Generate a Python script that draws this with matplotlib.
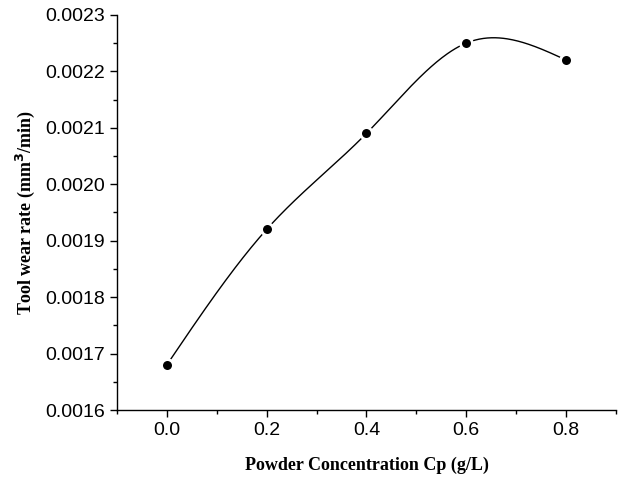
import numpy as np
import matplotlib.pyplot as plt
from matplotlib.ticker import MultipleLocator

# data
concentration = [0.0, 0.2, 0.4, 0.6, 0.8]
wear_rate = [0.00168, 0.00192, 0.00209, 0.00225, 0.00222]


def natural_spline(x, y, n=300):
    # plain natural cubic spline, just for drawing the smooth connecting line
    x = np.asarray(x, float)
    y = np.asarray(y, float)
    h = np.diff(x)
    k = len(x)
    A = np.zeros((k, k))
    b = np.zeros(k)
    A[0, 0] = A[-1, -1] = 1
    for i in range(1, k - 1):
        A[i, i - 1] = h[i - 1]
        A[i, i] = 2 * (h[i - 1] + h[i])
        A[i, i + 1] = h[i]
        b[i] = 6 * ((y[i + 1] - y[i]) / h[i] - (y[i] - y[i - 1]) / h[i - 1])
    M = np.linalg.solve(A, b)
    xs = np.linspace(x[0], x[-1], n)
    idx = np.clip(np.searchsorted(x, xs) - 1, 0, k - 2)
    x0, x1 = x[idx], x[idx + 1]
    hh = x1 - x0
    ys = (M[idx] * (x1 - xs) ** 3 / (6 * hh) + M[idx + 1] * (xs - x0) ** 3 / (6 * hh)
          + (y[idx] / hh - M[idx] * hh / 6) * (x1 - xs)
          + (y[idx + 1] / hh - M[idx + 1] * hh / 6) * (xs - x0))
    return xs, ys


fig = plt.figure(figsize=(6.39, 4.79), dpi=100)
ax = fig.add_axes([0.183, 0.144, 0.781, 0.825])

xs, ys = natural_spline(concentration, wear_rate)
ax.plot(xs, ys, color="black", lw=1.0)
# white edge leaves a small gap in the line around each symbol
ax.plot(concentration, wear_rate, "o", markerfacecolor="black", markeredgecolor="white",
        markersize=8.5, markeredgewidth=2.0)

ax.set_xlim(-0.1, 0.9)
ax.set_ylim(0.0016, 0.0023)
ax.xaxis.set_major_locator(MultipleLocator(0.2))
ax.xaxis.set_minor_locator(MultipleLocator(0.1))
ax.yaxis.set_major_locator(MultipleLocator(0.0001))
ax.yaxis.set_minor_locator(MultipleLocator(0.00005))
ax.xaxis.set_major_formatter(plt.FuncFormatter(lambda v, p: f"{v:.1f}"))
ax.yaxis.set_major_formatter(plt.FuncFormatter(lambda v, p: f"{v:.4f}"))

for s in ["top", "right"]:
    ax.spines[s].set_visible(False)
for s in ["left", "bottom"]:
    ax.spines[s].set_linewidth(1.0)

ax.tick_params(which="major", direction="out", length=5, width=1, labelsize=14)
ax.tick_params(which="minor", direction="out", length=3, width=1)
for lab in ax.get_xticklabels() + ax.get_yticklabels():
    lab.set_fontfamily("Liberation Sans")

ax.set_xlabel("Powder Concentration Cp (g/L)", fontfamily="Liberation Serif",
              fontweight="bold", fontsize=13, labelpad=13)
ax.set_ylabel("Tool wear rate (mm$^{\\mathbf{3}}$/min)", fontfamily="Liberation Serif",
              fontweight="bold", fontsize=13, labelpad=6)

fig.savefig("out.png", dpi=100)
